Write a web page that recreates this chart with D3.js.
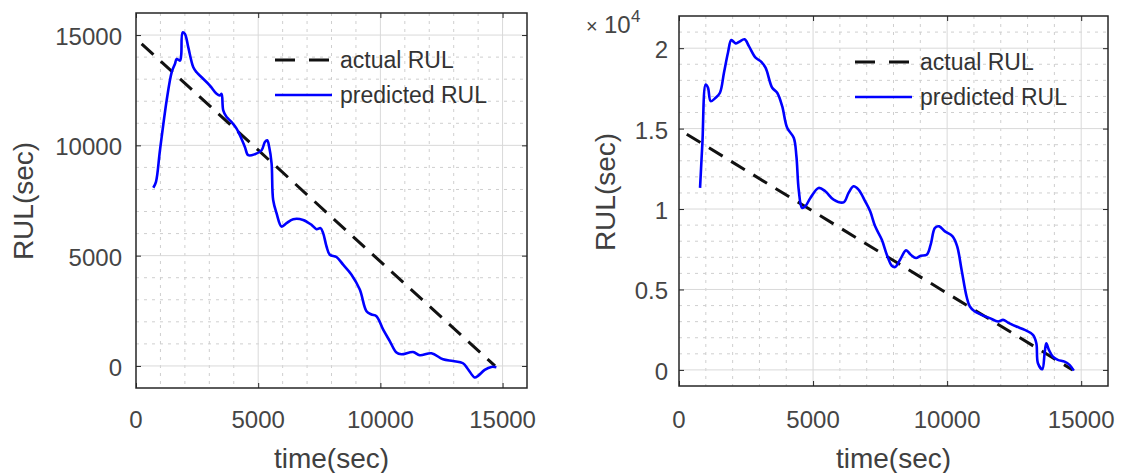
<!DOCTYPE html>
<html>
<head>
<meta charset="utf-8">
<script src="https://cdn.jsdelivr.net/npm/d3@7"></script>
<style>
  body { margin: 0; background: #fff; }
  svg { display: block; font-family: "Liberation Sans", Arial, sans-serif; }
</style>
</head>
<body>
<div class="chart"></div>
<script>
// data: [time (sec), RUL (sec)]
var leftActual = [[230, 14600], [14690, 0]];
var leftPredicted = [
  [708, 8078], [818, 8348], [981, 9779], [1254, 12035], [1459, 13312], [1594, 13692],
  [1663, 13917], [1799, 13840], [1850, 14100], [1908, 15117], [2003, 15045], [2140, 14440],
  [2345, 13538], [2481, 13312], [2685, 13087], [3025, 12712], [3298, 12335], [3434, 12261],
  [3503, 12335], [3570, 11584], [3707, 11282], [3912, 11056], [4116, 10758], [4252, 10456],
  [4456, 9928], [4591, 9553], [4865, 9598], [5139, 9779], [5274, 10153], [5368, 10230],
  [5450, 9928], [5548, 9179], [5613, 7523], [5752, 6922], [5957, 6318], [6161, 6471],
  [6432, 6652], [6840, 6620], [7183, 6394], [7387, 6200], [7551, 6245], [7658, 6020],
  [7797, 5415], [7931, 5040], [8205, 4937], [8476, 4589], [8819, 4138], [9158, 3461],
  [9432, 2482], [9636, 2333], [9840, 2256], [10110, 1656], [10384, 1128], [10658, 605],
  [10862, 528], [11337, 632], [11611, 483], [12089, 573], [12563, 302], [12972, 226],
  [13381, 122], [13586, -149], [13860, -524], [13995, -451], [14268, -181], [14542, -45],
  [14747, -59]
];

var rightActual = [[290, 14650], [14680, 0]];
var rightPredicted = [
  [785, 11314], [873, 14116], [996, 17746], [1082, 17540], [1182, 16706], [1368, 16918],
  [1528, 17230], [1677, 18475], [1826, 19720], [1952, 20505], [2112, 20299], [2234, 20380],
  [2446, 20548], [2606, 20131], [2855, 19408], [3041, 19197], [3227, 18786], [3476, 17540],
  [3662, 17230], [3848, 16395], [4034, 15050], [4279, 14427], [4379, 13282], [4465, 11200],
  [4591, 10068], [4714, 10171], [4900, 10691], [5208, 11314], [5457, 11102], [5766, 10585],
  [6138, 10418], [6324, 11002], [6510, 11413], [6696, 11208], [6944, 10480], [7130, 9857],
  [7316, 8923], [7565, 8095], [7751, 7161], [7937, 6476], [8060, 6395], [8245, 6849],
  [8468, 7429], [8643, 7161], [8840, 6953], [9015, 7098], [9238, 7161], [9386, 7783],
  [9547, 8823], [9706, 8923], [9918, 8611], [10204, 8300], [10375, 7678], [10539, 6227],
  [10725, 4564], [10848, 3941], [11034, 3630], [11283, 3425], [11591, 3219], [11900, 3007],
  [12086, 3113], [12271, 2945], [12584, 2696], [12892, 2491], [13201, 2179], [13327, 1661],
  [13387, 417], [13550, 44], [13636, 1040], [13699, 1661], [13796, 1245], [13944, 828],
  [14130, 623], [14379, 517], [14565, 311], [14725, -44]
];

var xTicks = [0, 5000, 10000, 15000];
var leftYTicks = [0, 5000, 10000, 15000];
var rightYTicks = [0, 5000, 10000, 15000, 20000];
var rightYLabels = ["0", "0.5", "1", "1.5", "2"];
var legendLabels = ["actual RUL", "predicted RUL"];

var svg = d3.select(".chart").append("svg")
    .attr("width", 1122)
    .attr("height", 473);

function panel(opt) {
  var x = d3.scaleLinear().domain([0, 16000]).range([opt.left, opt.right]);
  var y = d3.scaleLinear().domain(opt.yDomain).range([opt.bottom, opt.top]);
  var g = svg.append("g");

  // minor grid (every 1000)
  var xMinor = d3.range(1000, 16000, 1000).filter(function(d) { return d % 5000 !== 0; });
  var yMinor = d3.range(opt.yDomain[0] + 1000, opt.yDomain[1], 1000)
      .filter(function(d) { return d % 5000 !== 0; });
  g.selectAll(".xminor").data(xMinor).enter().append("line")
      .attr("x1", x).attr("x2", x).attr("y1", opt.top).attr("y2", opt.bottom)
      .style("stroke", "#cfcfcf").style("stroke-dasharray", "3,5");
  g.selectAll(".yminor").data(yMinor).enter().append("line")
      .attr("y1", y).attr("y2", y).attr("x1", opt.left).attr("x2", opt.right)
      .style("stroke", "#cfcfcf").style("stroke-dasharray", "3,5");

  // major grid
  g.selectAll(".xmajor").data(xTicks.slice(1)).enter().append("line")
      .attr("x1", x).attr("x2", x).attr("y1", opt.top).attr("y2", opt.bottom)
      .style("stroke", "#d9d9d9");
  g.selectAll(".ymajor").data(opt.yTicks).enter().append("line")
      .attr("y1", y).attr("y2", y).attr("x1", opt.left).attr("x2", opt.right)
      .style("stroke", "#d9d9d9");

  // inward ticks on all four sides
  g.append("g").attr("transform", "translate(0," + opt.bottom + ")")
      .call(d3.axisTop(x).tickValues(xTicks).tickSize(5).tickFormat(""));
  g.append("g").attr("transform", "translate(0," + opt.top + ")")
      .call(d3.axisBottom(x).tickValues(xTicks).tickSize(5).tickFormat(""));
  g.append("g").attr("transform", "translate(" + opt.left + ",0)")
      .call(d3.axisRight(y).tickValues(opt.yTicks).tickSize(5).tickFormat(""));
  g.append("g").attr("transform", "translate(" + opt.right + ",0)")
      .call(d3.axisLeft(y).tickValues(opt.yTicks).tickSize(5).tickFormat(""));
  g.selectAll(".domain").remove();
  g.selectAll(".tick line").style("stroke", "#262626");

  // lines
  var line = d3.line()
      .curve(d3.curveCatmullRom.alpha(0.5))
      .x(function(d) { return x(d[0]); })
      .y(function(d) { return y(d[1]); });
  g.append("path").datum(opt.actual).attr("d", line)
      .style("fill", "none").style("stroke", "#111")
      .style("stroke-width", 3).style("stroke-dasharray", "16,10");
  g.append("path").datum(opt.predicted).attr("d", line)
      .style("fill", "none").style("stroke", "#0000ff")
      .style("stroke-width", 2.6).style("stroke-linejoin", "round");

  // box
  g.append("rect")
      .attr("x", opt.left).attr("y", opt.top)
      .attr("width", opt.right - opt.left).attr("height", opt.bottom - opt.top)
      .style("fill", "none").style("stroke", "#262626").style("stroke-width", 1.5);

  // tick labels
  g.selectAll(".xlab").data(xTicks).enter().append("text")
      .attr("x", x).attr("y", 428)
      .attr("text-anchor", "middle")
      .style("font-size", "24px").style("fill", "#454545")
      .text(function(d) { return d; });
  g.selectAll(".ylab").data(opt.yTicks).enter().append("text")
      .attr("x", opt.left - opt.labelGap)
      .attr("y", function(d) { return y(d) + 10; })
      .attr("text-anchor", "end")
      .style("font-size", "24px").style("fill", "#454545")
      .text(function(d, i) { return opt.yLabels ? opt.yLabels[i] : d; });

  // axis titles
  g.append("text")
      .attr("x", (opt.left + opt.right) / 2).attr("y", 468)
      .attr("text-anchor", "middle")
      .style("font-size", "28px").style("fill", "#404040")
      .text("time(sec)");
  g.append("text")
      .attr("transform", "translate(" + opt.yTitleX + "," + opt.yTitleY + ") rotate(-90)")
      .attr("text-anchor", "middle")
      .style("font-size", "28px").style("fill", "#404040")
      .text("RUL(sec)");

  // legend
  var lg = g.append("g").attr("transform", "translate(" + opt.legendX + "," + opt.legendY + ")");
  lg.append("line").attr("x1", 0).attr("x2", 57).attr("y1", 0).attr("y2", 0)
      .style("stroke", "#111").style("stroke-width", 3).style("stroke-dasharray", "20,14");
  lg.append("line").attr("x1", 0).attr("x2", 57).attr("y1", 35).attr("y2", 35)
      .style("stroke", "#0000ff").style("stroke-width", 2.5);
  lg.selectAll("text").data(legendLabels).enter().append("text")
      .attr("x", 65).attr("y", function(d, i) { return i * 35 + 8; })
      .style("font-size", "23px").style("fill", "#333")
      .text(function(d) { return d; });

  return g;
}

panel({
  left: 136, right: 527, top: 13, bottom: 388,
  yDomain: [-1000, 16000], yTicks: leftYTicks, labelGap: 14,
  actual: leftActual, predicted: leftPredicted,
  yTitleX: 33, yTitleY: 201, legendX: 275, legendY: 60
});

var right = panel({
  left: 679, right: 1108, top: 16, bottom: 386,
  yDomain: [-1000, 22000], yTicks: rightYTicks, yLabels: rightYLabels, labelGap: 11,
  actual: rightActual, predicted: rightPredicted,
  yTitleX: 615, yTitleY: 192, legendX: 855, legendY: 62
});

// exponent label
var ex = right.append("g").style("fill", "#454545");
ex.append("text").attr("x", 586).attr("y", 33).attr("font-size", 20).text("\u00d7");
ex.append("text").attr("x", 604).attr("y", 33).attr("font-size", 24).text("10");
ex.append("text").attr("x", 631).attr("y", 22).attr("font-size", 17).text("4");
</script>
</body>
</html>
